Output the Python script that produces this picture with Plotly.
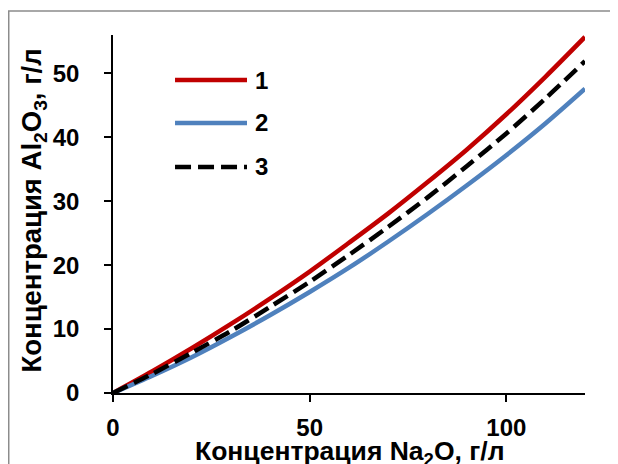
import plotly.graph_objects as go

# Data
na2o = [0, 10, 20, 30, 40, 50, 60, 70, 80, 90, 100, 110, 120]
series1 = [0, 3.4, 7.0, 10.8, 14.8, 19.0, 23.5, 28.1, 33.0, 38.1, 43.6, 49.5, 55.7]
series2 = [0, 2.7, 5.6, 8.8, 12.2, 15.8, 19.6, 23.7, 28.0, 32.5, 37.2, 42.2, 47.6]
series3 = [0, 3.0, 6.3, 9.7, 13.5, 17.4, 21.6, 26.0, 30.6, 35.5, 40.6, 46.1, 51.9]
names = ["1", "2", "3"]
x_ticks = [0, 50, 100]
y_ticks = [0, 10, 20, 30, 40, 50]
x_title = "<b>Концентрация Na<sub>2</sub>O, г/л</b>"
y_title = "<b>Концентрация Al<sub>2</sub>O<sub>3</sub>, г/л</b>"

colors = ["#C00000", "#4F81BD", "#000000"]
dashes = ["solid", "solid", "16px,7px"]
widths = [4.5, 4.5, 4.5]

FONT = "Liberation Sans, Arial, sans-serif"

fig = go.Figure()
for ys, nm, c, d, w in zip([series1, series2, series3], names, colors, dashes, widths):
    fig.add_trace(go.Scatter(x=na2o, y=ys, name=nm, mode="lines",
                             line=dict(color=c, width=w, dash=d, shape="spline", smoothing=0.8),
                             showlegend=False))

# Legend drawn manually (long line samples as in the reference)
leg_y = [0.8743, 0.7542, 0.6313]
for nm, c, d, yy in zip(names, colors, dashes, leg_y):
    fig.add_shape(type="line", xref="paper", yref="paper", x0=0.1314, x1=0.2839,
                  y0=yy, y1=yy, line=dict(color=c, width=4.5, dash=d))
    fig.add_annotation(xref="paper", yref="paper", x=0.2966, y=yy, text="<b>%s</b>" % nm,
                       showarrow=False, xanchor="left", yanchor="middle",
                       font=dict(family=FONT, size=24, color="#000000"))

# Axis titles
fig.add_annotation(xref="paper", yref="paper", x=0.5, y=-0.168, text=x_title,
                   showarrow=False, xanchor="center", yanchor="middle",
                   font=dict(family=FONT, size=26.5, color="#000000"))
fig.add_annotation(xref="paper", yref="paper", x=-0.1685, y=0.511, text=y_title,
                   showarrow=False, xanchor="center", yanchor="middle", textangle=-90,
                   font=dict(family=FONT, size=27.5, color="#000000"))

# Outer chart-area border (extends beyond the image on right/bottom)
fig.add_shape(type="rect", xref="paper", yref="paper", x0=-0.2209, x1=1.3, y0=-0.4, y1=1.067,
              line=dict(color="#8C8C8C", width=1.5), fillcolor="rgba(0,0,0,0)", layer="below")

fig.update_layout(
    width=618, height=464,
    margin=dict(l=105, r=41, t=27, b=79),
    paper_bgcolor="white", plot_bgcolor="white",
    font=dict(family=FONT, size=24, color="#000000"),
    xaxis=dict(range=[0, 120], tickvals=x_ticks, ticktext=["<b>%d</b>" % v for v in x_ticks],
               automargin=False,
               showgrid=False, zeroline=False, showline=True, linecolor="#000000", linewidth=1.5,
               ticks="outside", ticklen=7, tickwidth=1.5, tickcolor="#000000",
               tickfont=dict(family=FONT, size=24), ticklabelstandoff=5),
    yaxis=dict(range=[0, 56], tickvals=y_ticks, ticktext=["<b>%d</b>" % v for v in y_ticks],
               automargin=False,
               showgrid=False, zeroline=False, showline=True, linecolor="#000000", linewidth=1.5,
               ticks="outside", ticklen=7, tickwidth=1.5, tickcolor="#000000",
               tickfont=dict(family=FONT, size=24), ticklabelstandoff=20),
)

fig.write_html("out.html")
